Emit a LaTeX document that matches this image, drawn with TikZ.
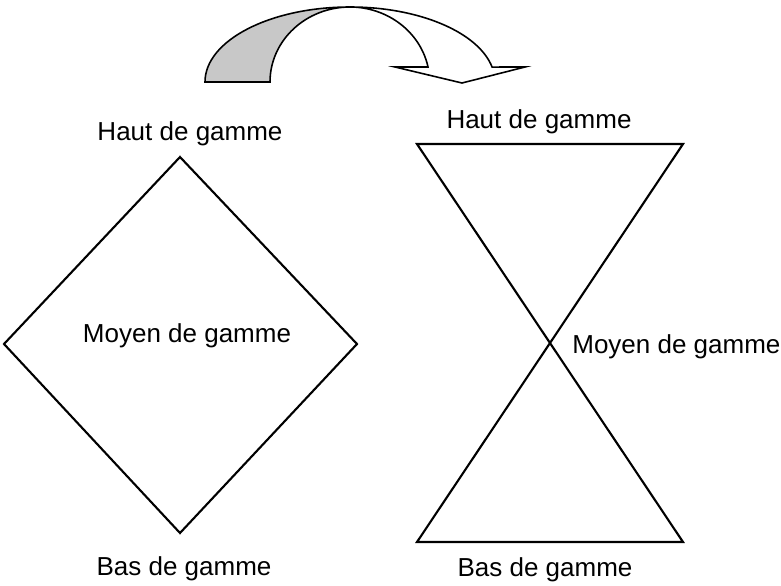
\documentclass[tikz,border=0pt]{standalone}
\usepackage{fontspec}
\setmainfont{Liberation Sans}
\usepackage{tikz}
\definecolor{ribbon}{RGB}{200,200,200}
\tikzset{
    every node/.style={inner sep=0mm, font=\fontsize{14.8}{17}\selectfont},
    side/.style={line width=1.2pt, line join=miter},
    band/.style={line width=0.9pt, line join=miter}
}

\begin{document}
\begin{tikzpicture}[x=0.02cm, y=-0.02cm]
        \useasboundingbox (0,0) rectangle (781,585);
        % losange
        \coordinate (l0) at (180,157);
        \coordinate (l1) at (357,344);
        \coordinate (l2) at (180,533);
        \coordinate (l3) at (4,344);
        \draw[side] (l0) -- (l1) -- (l2) -- (l3) -- cycle;
        % sablier
        \coordinate (r0) at (417,144);
        \coordinate (r1) at (683,144);
        \coordinate (r2) at (417,542);
        \coordinate (r3) at (683,542);
        \draw[side] (r0) -- (r1) -- (r2) -- (r3) -- cycle;
        % labels
        \node (lh) [anchor=base] at (190,140) {Haut de gamme};
        \node (lm) [anchor=base] at (187,342) {Moyen de gamme};
        \node (lb) [anchor=base] at (184,575) {Bas de gamme};
        \node (rh) [anchor=base] at (539,128) {Haut de gamme};
        \node (rm) [anchor=base west] at (572,353) {Moyen de gamme};
        \node (rb) [anchor=base] at (545,576) {Bas de gamme};
        % fleche
        \coordinate (a0) at (205,82);
        \draw[band, fill=ribbon] (a0)
                arc[start angle=180, end angle=270, x radius=145, y radius=75] coordinate (a1)
                arc[start angle=270, end angle=180, x radius=80, y radius=75] -- cycle;
        \draw[band, fill=white] (a1)
                arc[start angle=270, end angle=348.5, x radius=145, y radius=75]
                -- (525,67) -- (462,83) -- (395,67) -- (428,67)
                arc[start angle=348.5, end angle=270, x radius=80, y radius=75] -- cycle;
\end{tikzpicture}
\end{document}
